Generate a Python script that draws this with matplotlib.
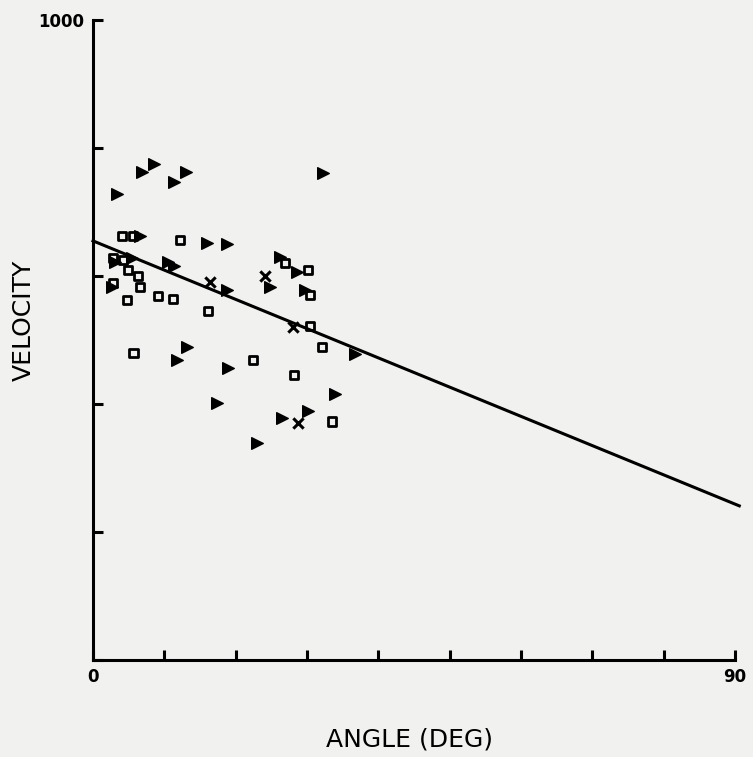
import matplotlib
matplotlib.use("Agg")
import matplotlib.pyplot as plt

# triangles (filled, pointing right)
tri_angle = [3.4, 6.9, 8.6, 11.4, 13.0, 32.2, 6.6, 16.0, 18.8, 3.1, 5.5, 2.7, 10.5, 11.4,
             18.8, 24.8, 26.2, 28.6, 29.7, 36.7, 13.2, 11.8, 18.9, 17.4, 33.9, 26.5, 30.1, 23.0]
tri_vel = [728, 763, 775, 747, 763, 761, 663, 652, 650, 622, 628, 583, 622, 616,
           578, 583, 630, 606, 578, 478, 489, 469, 456, 402, 416, 378, 389, 339]

# crosses
x_angle = [16.4, 24.1, 28.0, 28.7]
x_vel = [591, 600, 520, 370]

# open squares
sq_angle = [4.1, 5.6, 12.2, 2.8, 4.2, 4.9, 6.3, 6.6, 2.8, 4.8, 9.1, 11.2, 16.1, 5.7,
            22.4, 26.9, 30.1, 30.4, 30.4, 32.1, 28.2, 33.5]
sq_vel = [663, 663, 656, 628, 625, 609, 600, 583, 589, 563, 569, 564, 545, 480,
          469, 620, 609, 570, 522, 489, 445, 373]

# fitted line
fit_angle = [0, 90.6]
fit_vel = [655, 241]

BG = "#f1f1ef"

fig = plt.figure(figsize=(7.53, 7.57), dpi=100, facecolor=BG)
ax = fig.add_axes([0.1235, 0.128, 0.8526, 0.8455])
ax.set_facecolor(BG)

ax.plot(fit_angle, fit_vel, color="black", lw=2.2, clip_on=False, zorder=2)
ax.scatter(sq_angle, sq_vel, marker="s", s=36, facecolors="none",
           edgecolors="black", linewidths=2.0, zorder=3)
ax.scatter(tri_angle, tri_vel, marker=">", s=70, color="black", zorder=3)
ax.scatter(x_angle, x_vel, marker="x", s=55, color="black", linewidths=2.2, zorder=3)

ax.set_xlim(0, 90)
ax.set_ylim(0, 1000)
for side in ("top", "right"):
    ax.spines[side].set_visible(False)
for side in ("left", "bottom"):
    ax.spines[side].set_linewidth(2.2)

ax.set_xticks(range(0, 91, 10))
ax.set_xticklabels(["0"] + [""] * 8 + ["90"])
ax.set_yticks(range(0, 1001, 200))
ax.set_yticklabels([""] * 5 + ["1000"])
ax.tick_params(direction="in", length=7, width=2.2, pad=6)
for lbl in ax.get_xticklabels() + ax.get_yticklabels():
    lbl.set_fontweight("bold")
    lbl.set_fontsize(12)

fig.text(410 / 753, 1 - 740 / 757, "ANGLE (DEG)", fontsize=18,
         ha="center", va="center")
fig.text(24 / 753, 1 - 320 / 757, "VELOCITY", fontsize=18, rotation=90,
         ha="center", va="center")

fig.savefig("out.png", dpi=100, facecolor=BG)
